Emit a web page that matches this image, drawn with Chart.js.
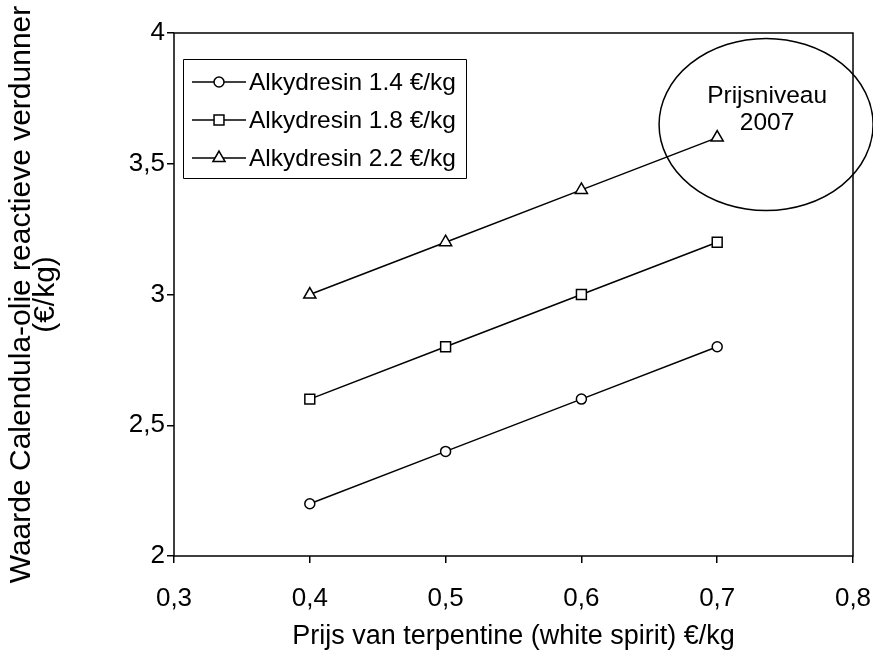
<!DOCTYPE html>
<html>
<head>
<meta charset="utf-8">
<script src="https://cdn.jsdelivr.net/npm/chart.js@4.4.1/dist/chart.umd.min.js"></script>
<style>
html,body{margin:0;padding:0;background:#fff;}
#wrap{width:873px;height:653px;}
</style>
</head>
<body>
<div id="wrap"><canvas id="c" width="873" height="653"></canvas></div>
<script>
// ---- data ----
const xValues = [0.4, 0.5, 0.6, 0.7];
const alkyd14 = [2.2, 2.4, 2.6, 2.8];
const alkyd18 = [2.6, 2.8, 3.0, 3.2];
const alkyd22 = [3.0, 3.2, 3.4, 3.6];
const seriesLabels = ['Alkydresin 1.4 €/kg', 'Alkydresin 1.8 €/kg', 'Alkydresin 2.2 €/kg'];
const xTickValues = [0.3, 0.4, 0.5, 0.6, 0.7, 0.8];
const yTickValues = [2, 2.5, 3, 3.5, 4];
const xTitle = 'Prijs van terpentine (white spirit) €/kg';
const yTitle = ['Waarde Calendula-olie reactieve verdunner', '(€/kg)'];
const noteLines = ['Prijsniveau', '2007'];

const FONT = '"Liberation Sans", Arial, sans-serif';
const fmt = v => String(Math.round(v * 10) / 10).replace('.', ',');

function mk(vals) { return xValues.map((x, i) => ({x: x, y: vals[i]})); }

const styles = [
  {pointStyle: 'circle', radius: 5},
  {pointStyle: 'rect', radius: 7},
  {pointStyle: 'triangle', radius: 7}
];

const datasets = [alkyd14, alkyd18, alkyd22].map((vals, i) => ({
  label: seriesLabels[i],
  data: mk(vals),
  borderColor: '#000',
  borderWidth: 1.5,
  backgroundColor: '#fff',
  pointStyle: styles[i].pointStyle,
  pointRadius: styles[i].radius,
  pointHoverRadius: styles[i].radius,
  pointBackgroundColor: '#fff',
  pointBorderColor: '#000',
  pointBorderWidth: 1.5,
  tension: 0,
  fill: false
}));

const framePlugin = {
  id: 'frame',
  afterDatasetsDraw(chart) {
    const {ctx, chartArea: a} = chart;
    ctx.save();
    ctx.strokeStyle = '#000';
    ctx.lineWidth = 1.5;
    ctx.strokeRect(a.left, a.top, a.right - a.left, a.bottom - a.top);
    ctx.restore();
  },
  afterDraw(chart) {
    const {ctx} = chart;
    const xs = chart.scales.x, ys = chart.scales.y;
    // legend box
    ctx.save();
    ctx.strokeStyle = '#000';
    ctx.lineWidth = 1;
    ctx.fillStyle = '#fff';
    ctx.beginPath();
    ctx.rect(183.5, 59.5, 283, 119);
    ctx.fill();
    ctx.stroke();
    const rowY = [82, 120, 158];
    chart.data.datasets.forEach((ds, i) => {
      const y = rowY[i];
      ctx.strokeStyle = '#000';
      ctx.lineWidth = 1.5;
      ctx.beginPath();
      ctx.moveTo(192, y);
      ctx.lineTo(246, y);
      ctx.stroke();
      ctx.fillStyle = '#fff';
      ctx.strokeStyle = '#000';
      ctx.lineWidth = 1.5;
      Chart.helpers.drawPoint(ctx, {pointStyle: ds.pointStyle, radius: ds.pointRadius, rotation: 0, borderWidth: 1.5}, 219, y);
      ctx.fillStyle = '#000';
      ctx.font = '24.5px ' + FONT;
      ctx.textAlign = 'left';
      ctx.textBaseline = 'middle';
      ctx.fillText(ds.label, 249, y + 1);
    });
    // ellipse annotation
    const cx = xs.getPixelForValue(0.736), cy = ys.getPixelForValue(3.65);
    const rx = xs.getPixelForValue(0.736 + 0.0788) - cx;
    const ry = cy - ys.getPixelForValue(3.65 + 0.329);
    ctx.strokeStyle = '#000';
    ctx.lineWidth = 1.5;
    ctx.beginPath();
    ctx.ellipse(cx, cy, rx, ry, 0, 0, Math.PI * 2);
    ctx.stroke();
    ctx.fillStyle = '#000';
    ctx.font = '24.5px ' + FONT;
    ctx.textAlign = 'center';
    ctx.textBaseline = 'middle';
    ctx.fillText(noteLines[0], cx + 1, 96);
    ctx.fillText(noteLines[1], cx + 1, 123);
    ctx.restore();
  }
};

new Chart(document.getElementById('c'), {
  type: 'line',
  data: {datasets: datasets},
  plugins: [framePlugin],
  options: {
    responsive: false,
    animation: false,
    devicePixelRatio: 1,
    layout: {padding: {left: 0, top: 33, right: 20, bottom: 0}},
    plugins: {legend: {display: false}, tooltip: {enabled: false}},
    events: [],
    scales: {
      x: {
        type: 'linear',
        min: 0.3, max: 0.8,
        afterBuildTicks(s) { s.ticks = xTickValues.map(v => ({value: v})); },
        afterFit(s) { s.height = 97; s.paddingLeft = 0; s.paddingRight = 0; },
        ticks: {callback: v => fmt(v), color: '#000', font: {family: FONT, size: 26}, padding: 20, maxRotation: 0, autoSkip: false},
        grid: {display: true, drawOnChartArea: false, drawTicks: true, tickLength: 7, color: '#000', lineWidth: 1.5},
        border: {display: false},
        title: {display: true, text: xTitle, color: '#000', font: {family: FONT, size: 27, lineHeight: 1.2}, padding: {top: 0, bottom: 0}}
      },
      y: {
        type: 'linear',
        min: 2, max: 4,
        afterBuildTicks(s) { s.ticks = yTickValues.map(v => ({value: v})); },
        afterFit(s) { s.width = 174; s.paddingTop = 0; s.paddingBottom = 0; },
        ticks: {callback: v => fmt(v), color: '#000', font: {family: FONT, size: 26}, padding: 2, autoSkip: false},
        grid: {display: true, drawOnChartArea: false, drawTicks: true, tickLength: 7, color: '#000', lineWidth: 1.5},
        border: {display: false},
        title: {display: true, text: yTitle, color: '#000', font: {family: FONT, size: 30, lineHeight: 0.8}, padding: {top: 10, bottom: 0}}
      }
    }
  }
});
</script>
</body>
</html>
